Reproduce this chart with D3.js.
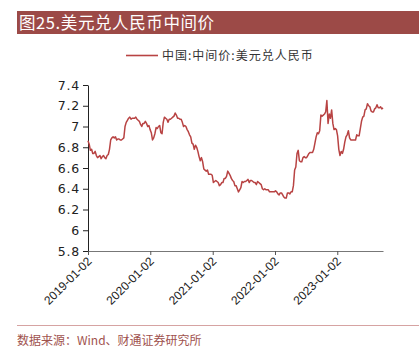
<!DOCTYPE html>
<html><head><meta charset="utf-8">
<script src="https://cdn.jsdelivr.net/npm/d3@7/dist/d3.min.js"></script>
<style>
html,body{margin:0;padding:0;background:#fff;}
svg{display:block;}
</style></head>
<body>
<script>
const titleText = "图25.美元兑人民币中间价";
const legendText = "中国:中间价:美元兑人民币";
const sourceText = "数据来源：Wind、财通证券研究所";
const startDate = "2019-01-02";
const endDate = "2023-09-27";
const xTickLabels = ["2019-01-02","2020-01-02","2021-01-02","2022-01-02","2023-01-02"];
const yTicks = [5.8,6.0,6.2,6.4,6.6,6.8,7.0,7.2,7.4];
// weekly USD/CNY central parity, starting 2019-01-02
const values2019 = [6.863,6.83,6.77,6.78,6.74, 6.74,6.76,6.72,6.70, 6.71,6.72,6.69,6.71, 6.72,6.70,6.69,6.72, 6.73,6.78,6.87,6.89,6.90, 6.89,6.90,6.87,6.88, 6.88,6.87,6.87,6.88,6.89, 7.00,7.04,7.06,7.08, 7.09,7.07,7.08,7.08, 7.08,7.09,7.07,7.06,7.05, 7.02,7.00,7.03,7.03, 7.05,7.03,7.00,7.01];
const values2020 = [6.97,6.94,6.87,6.89,6.93, 6.99,6.98,7.00,7.01, 6.94,6.93,7.04,7.09, 7.08,7.07,7.04,7.07,7.07, 7.08,7.09,7.10,7.13, 7.11,7.08,7.08,7.07, 7.07,7.04,7.00,7.01,7.00, 6.97,6.95,6.92,6.90, 6.84,6.83,6.78,6.82,6.80, 6.76,6.71,6.67,6.70, 6.66,6.59,6.58,6.57, 6.58,6.54,6.54,6.54,6.53];
const values2021 = [6.46,6.47,6.48,6.47, 6.46,6.43,6.44,6.46, 6.46,6.50,6.50,6.52,6.57, 6.55,6.53,6.50,6.48, 6.47,6.43,6.43,6.40, 6.37,6.39,6.41,6.47,6.46, 6.47,6.47,6.48,6.49, 6.46,6.48,6.48,6.47, 6.46,6.46,6.44,6.47,6.46, 6.45,6.44,6.40,6.39, 6.40,6.39,6.39,6.39, 6.37,6.37,6.37,6.37,6.37];
const values2022 = [6.38,6.37,6.35,6.34, 6.36,6.36,6.34,6.32, 6.31,6.31,6.36,6.36,6.35, 6.37,6.37,6.43,6.58, 6.61,6.74,6.77,6.67, 6.66,6.66,6.70,6.71,6.70, 6.70,6.72,6.74,6.75, 6.75,6.75,6.78,6.84,6.90, 6.94,6.93,6.96,7.11, 7.10,7.11,7.12,7.14, 7.25,7.03,7.12,7.08,7.16, 7.03,6.97,6.98,6.97];
const values2023 = [6.91,6.78,6.72,6.76, 6.74,6.78,6.85,6.90, 6.92,6.96,6.89,6.87,6.87, 6.87,6.87,6.87,6.92, 6.91,6.91,6.98,7.05,7.09, 7.10,7.16,7.17,7.22, 7.20,7.19,7.15,7.14, 7.14,7.17,7.18,7.21,7.18, 7.18,7.19,7.17,7.18];

const values = [].concat(values2019, values2020, values2021, values2022, values2023);
const parse = d3.timeParse("%Y-%m-%d");
const t0 = parse(startDate);
const data = values.map((v,i) => ({date: d3.timeDay.offset(t0, 7*i), value: v}));

const W = 419, H = 354;
const svg = d3.select("body").append("svg").attr("width", W).attr("height", H);

// title bar
svg.append("rect").attr("x",17).attr("y",11).attr("width",W-17).attr("height",23).attr("fill","#9c4a47");
svg.append("text").attr("x",19).attr("y",29).attr("fill","#fff")
  .attr("font-family","'Noto Sans CJK SC', sans-serif").attr("font-size",16.5).attr("letter-spacing",0.6)
  .text(titleText);

const x = d3.scaleTime().domain([parse(startDate), parse(endDate)]).range([88, 383]);
const y = d3.scaleLinear().domain([5.8, 7.4]).range([251, 85]);

// legend
svg.append("line").attr("x1",126).attr("x2",158).attr("y1",55.5).attr("y2",55.5)
  .attr("stroke","#b84343").attr("stroke-width",1.6);
svg.append("text").attr("x",162).attr("y",60).attr("fill","#333")
  .attr("font-family","'Noto Sans CJK SC', sans-serif").attr("font-size",12).attr("letter-spacing",1)
  .text(legendText);

// y axis
const yAxis = svg.append("g").attr("transform","translate(88,0)")
  .call(d3.axisLeft(y).tickValues(yTicks).tickSize(5).tickSizeOuter(0).tickFormat(d => String(+d.toFixed(1))));
yAxis.select(".domain").attr("stroke","#222");
yAxis.selectAll(".tick line").attr("stroke","#222");
yAxis.selectAll("text").attr("fill","#222").attr("font-size",12.5)
  .attr("font-family","'DejaVu Sans', sans-serif").attr("letter-spacing",0.8).attr("x",-8);

// x axis
const xTicks = xTickLabels.map(parse);
const xAxis = svg.append("g").attr("transform","translate(0,251)")
  .call(d3.axisBottom(x).tickValues(xTicks).tickSize(4).tickSizeOuter(0).tickFormat(d3.timeFormat("%Y-%m-%d")));
xAxis.select(".domain").attr("stroke","#777").attr("stroke-width",1.2);
xAxis.selectAll(".tick line").attr("stroke","#555");
xAxis.selectAll("text").attr("fill","#222").attr("font-size",12)
  .attr("font-family","'Liberation Sans', sans-serif")
  .attr("text-anchor","end").attr("dy",0).attr("y",0)
  .attr("transform","translate(4,11) rotate(-45)");

// line
svg.append("path").datum(data)
  .attr("fill","none").attr("stroke","#b84343").attr("stroke-width",1.5).attr("stroke-linejoin","round")
  .attr("d", d3.line().x(d => x(d.date)).y(d => y(d.value)));

// source
svg.append("line").attr("x1",17).attr("x2",W).attr("y1",325.5).attr("y2",325.5)
  .attr("stroke","#d6a3a2").attr("stroke-width",1.2);
svg.append("text").attr("x",17).attr("y",345).attr("fill","#a0524e")
  .attr("font-family","'Noto Sans CJK SC', serif").attr("font-size",12)
  .text(sourceText);
</script>
</body></html>
